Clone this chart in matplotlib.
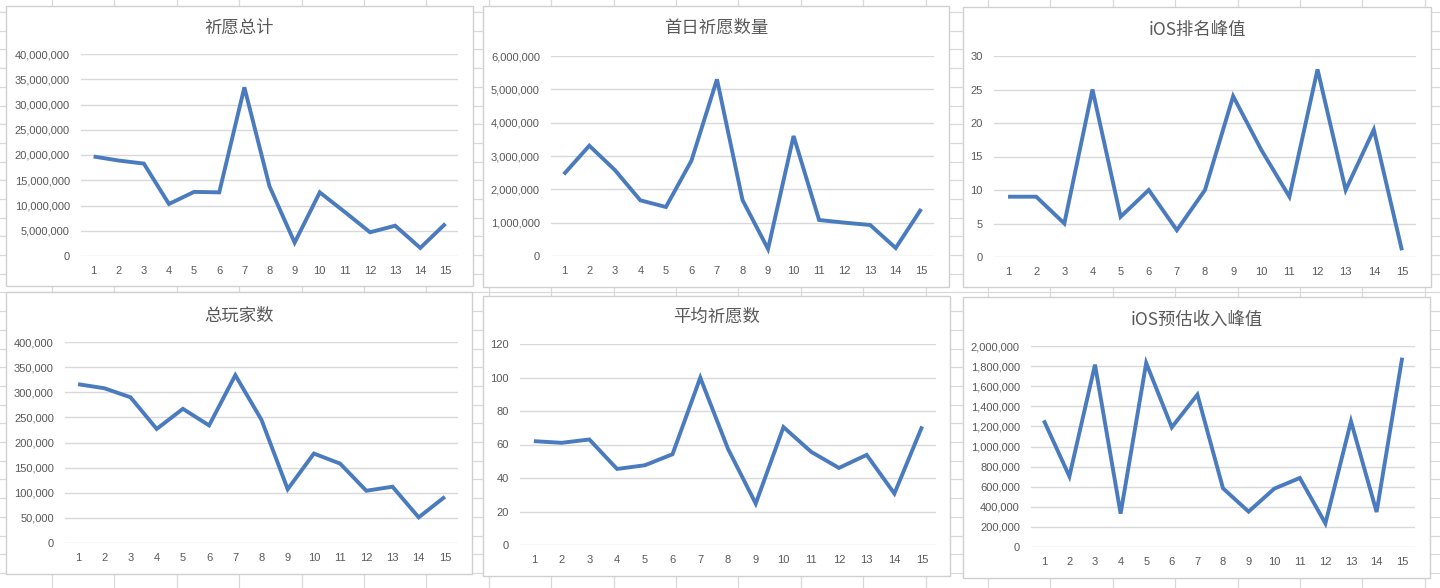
import matplotlib
matplotlib.use("Agg")
import matplotlib.pyplot as plt
from matplotlib.ticker import FuncFormatter, MultipleLocator
from matplotlib.patches import Rectangle

plt.rcParams['font.family'] = ['Liberation Sans', 'Noto Sans CJK SC', 'DejaVu Sans']

# ---- data ----
categories = list(range(1, 16))
wish_total = [19.7e6, 18.9e6, 18.3e6, 10.3e6, 12.7e6, 12.6e6, 33.4e6, 13.8e6,
              2.65e6, 12.6e6, 8.7e6, 4.7e6, 6.0e6, 1.6e6, 6.4e6]
first_day_wish = [2.45e6, 3.31e6, 2.58e6, 1.67e6, 1.47e6, 2.86e6, 5.30e6, 1.68e6,
                  0.21e6, 3.60e6, 1.08e6, 1.00e6, 0.93e6, 0.24e6, 1.41e6]
ios_rank_peak = [9, 9, 5, 25, 6, 10, 4, 10, 24, 16, 9, 28, 10, 19, 1]
total_players = [316e3, 308e3, 290e3, 227e3, 267e3, 234e3, 334e3, 245e3,
                 107e3, 178e3, 158e3, 104e3, 112e3, 51e3, 92e3]
avg_wish = [62, 61, 63, 45.4, 47.6, 54.2, 99.9, 57.4, 24.7, 70.4, 55.6, 46, 53.8, 30.7, 70.8]
ios_revenue_peak = [1260e3, 703e3, 1814e3, 332e3, 1831e3, 1191e3, 1516e3, 584e3,
                    352e3, 580e3, 687e3, 235e3, 1250e3, 348e3, 1884e3]

titles = ['祈愿总计', '首日祈愿数量', 'iOS排名峰值', '总玩家数', '平均祈愿数', 'iOS预估收入峰值']
series = [wish_total, first_day_wish, ios_rank_peak, total_players, avg_wish, ios_revenue_peak]
y_max = [40e6, 6e6, 30, 400e3, 120, 2e6]
y_step = [5e6, 1e6, 5, 50e3, 20, 200e3]

# ---- layout (pixels) ----
W, H = 1440, 588
panels = [(6, 6, 473, 286), (483, 6, 949, 287), (963, 7, 1431, 287),
          (6, 292, 472, 574), (483, 296, 950, 576), (963, 297, 1430, 578)]
plots = [(81, 458, 54, 256), (551, 934, 56, 256), (994, 1416, 56, 257),
         (65, 458, 342, 543), (520, 936, 344, 545), (1031, 1415, 346, 547)]
title_y = [28, 28, 30, 316, 317, 320]

fig = plt.figure(figsize=(W / 100, H / 100), dpi=100)
fig.patch.set_facecolor('white')

# spreadsheet background grid
bg = fig.add_axes([0, 0, 1, 1])
bg.set_xlim(0, W)
bg.set_ylim(H, 0)
bg.axis('off')
x = 52.0
while x < W:
    bg.axvline(x, color='#d9d9d9', lw=0.9)
    x += 62.4
y = 12.0
while y < H:
    bg.axhline(y, color='#d9d9d9', lw=0.9)
    y += 18.7

for (px0, py0, px1, py1) in panels:
    bg.add_patch(Rectangle((px0, py0), px1 - px0, py1 - py0, facecolor='white',
                           edgecolor='#d0d0d0', lw=1.0, zorder=2))

fmt = FuncFormatter(lambda v, p: f"{v:,.0f}")
text_color = '#595959'

for i in range(6):
    x0, x1, yt, yb = plots[i]
    ax = fig.add_axes([x0 / W, (H - yb) / H, (x1 - x0) / W, (yb - yt) / H])
    ax.set_facecolor('none')
    ax.plot(categories, series[i], color='#4a7bbf', lw=2.8, solid_joinstyle='miter',
            solid_capstyle='butt', zorder=3, clip_on=False)
    ax.set_xlim(0.5, 15.5)
    ax.set_ylim(0, y_max[i])
    ax.yaxis.set_major_locator(MultipleLocator(y_step[i]))
    ax.yaxis.set_major_formatter(fmt)
    ax.set_xticks(categories)
    ax.set_xticklabels([str(c) for c in categories])
    ax.grid(axis='y', color='#d9d9d9', lw=1.0)
    ax.set_axisbelow(True)
    for s in ax.spines.values():
        s.set_visible(False)
    ax.tick_params(axis='both', length=0, labelsize=8, labelcolor=text_color)
    ax.tick_params(axis='x', pad=7)
    ax.tick_params(axis='y', pad=8)
    px0, py0, px1, py1 = panels[i]
    fig.text((px0 + px1) / 2 / W, 1 - title_y[i] / H, titles[i], ha='center', va='center',
             fontsize=12.5, color=text_color, family=['Noto Sans CJK SC', 'DejaVu Sans'])

fig.savefig('out.png', dpi=100)
